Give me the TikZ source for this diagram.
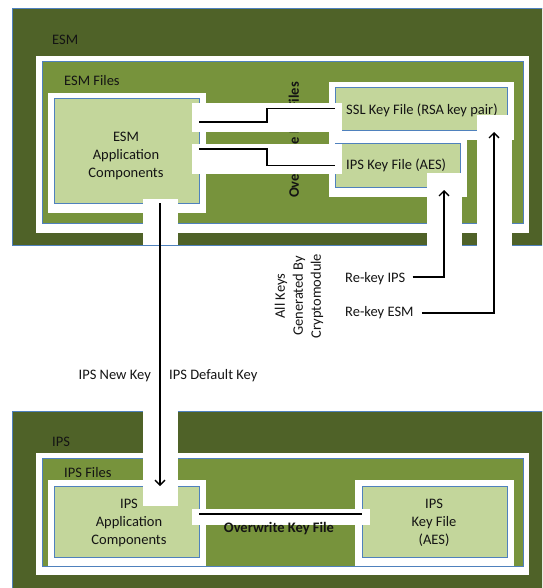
\documentclass[tikz,border=0pt]{standalone}
\usepackage{fontspec}
\setmainfont{Carlito}
\usetikzlibrary{arrows.meta,shadows}
\definecolor{dkgreen}{HTML}{4F6228}
\definecolor{mdgreen}{HTML}{77933C}
\definecolor{ltgreen}{HTML}{C3D69B}
\definecolor{bordblue}{HTML}{4F81BD}
\definecolor{txt}{HTML}{141414}
\begin{document}
\begin{tikzpicture}[x=1pt,y=-1pt,
  every node/.style={font=\fontsize{14.5}{18}\selectfont, text=txt},
  area/.style={draw=bordblue, line width=0.8pt, inner sep=0pt, outer sep=0pt, anchor=north west},
  outerbox/.style={area, fill=dkgreen},
  filebox/.style={area, fill=mdgreen, drop shadow={shadow xshift=0.8pt, shadow yshift=-1.2pt, opacity=0.3}},
  compbox/.style={area, fill=ltgreen, drop shadow={shadow xshift=0.8pt, shadow yshift=-1.2pt, opacity=0.3}},
  halo/.style={fill=white, draw=none, inner sep=0pt, outer sep=0pt, anchor=north west},
  lbl/.style={anchor=west, inner sep=0pt},
  boldlbl/.style={font=\fontsize{14.5}{18}\selectfont\bfseries, inner sep=0pt},
  conn/.style={draw=black, line width=1.1pt},
  arr/.style={conn, -{Straight Barb[length=5pt,width=10pt,line width=1.3pt]}},
]
\useasboundingbox (0,0) rectangle (542,588);
\clip (0,0) rectangle (542,588);

% ---------------- ESM ----------------
\node[outerbox, minimum width=540pt, minimum height=237pt] (esm) at (12,8) {};
\node[lbl] (esmlbl) at (52,40) {ESM};
\node[halo, minimum width=493pt, minimum height=177pt] (esmhalo) at (36,56) {};
\node[filebox, minimum width=481pt, minimum height=162pt] (esmfiles) at (42,61) {};
\node[lbl] (esmfileslbl) at (64,81) {ESM Files};
\node[halo, minimum width=158pt, minimum height=120pt] (esmapphalo) at (48,93) {};
\node[compbox, minimum width=145pt, minimum height=105pt] (esmapp) at (54,98) {};
\node[align=center, inner sep=0pt] (esmapptxt) at (126,156) {ESM\\Application\\Components};

\node[boldlbl, rotate=90] (owfiles) at (295,140) {Overwrite Key Files};

\node[halo, minimum width=185pt, minimum height=58pt] (sslhalo) at (329,82) {};
\node[halo, minimum width=138pt, minimum height=57pt] (ipshalo) at (329,140) {};
\node[compbox, minimum width=172pt, minimum height=43pt] (ssl) at (335,87) {};
\node[lbl] (ssltxt) at (346,110) {SSL Key File (RSA key pair)};
\node[compbox, minimum width=125pt, minimum height=44pt] (ipskey) at (335,143) {};
\node[lbl] (ipskeytxt) at (346,165) {IPS Key File (AES)};

% connector strips
\node[halo, minimum width=150pt, minimum height=29pt] (strip1) at (192,103) {};
\node[halo, minimum width=150pt, minimum height=30pt] (strip2) at (192,144) {};
\draw[conn] ([yshift=28.5pt]esmapp.east) -- ++(68,0) |- (ssl.west);
\draw[conn] ([yshift=1.5pt]esmapp.east) -- ++(68,0) |- ([yshift=-0.5pt]ipskey.west);

% re-key strips
\node[halo, minimum width=35pt, minimum height=79pt] (rkipsstrip) at (427,173) {};
\node[halo, minimum width=35pt, minimum height=137pt] (rkesmstrip) at (477,115) {};

% down strip (top part)
\node[halo, minimum width=35pt, minimum height=46pt] (downstrip1) at (143,199) {};

% ---------------- IPS ----------------
\node[outerbox, minimum width=540pt, minimum height=190pt] (ips) at (12,411) {};
\node[lbl] (ipslbl) at (52,442) {IPS};
\node[halo, minimum width=493pt, minimum height=122pt] (ipshalo2) at (36,453) {};
\node[filebox, minimum width=481pt, minimum height=108pt] (ipsfiles) at (42,458) {};
\node[lbl] (ipsfileslbl) at (64,473) {IPS Files};
\node[halo, minimum width=158pt, minimum height=86pt] (ipsapphalo) at (48,480) {};
\node[compbox, minimum width=145pt, minimum height=71pt] (ipsapp) at (54,486) {};
\node[align=center, inner sep=0pt] (ipsapptxt) at (129,523) {IPS\\Application\\Components};
\node[halo, minimum width=159pt, minimum height=86pt] (ipskeyhalo) at (355,480) {};
\node[compbox, minimum width=145pt, minimum height=71pt] (ipskeyfile) at (362,486) {};
\node[align=center, inner sep=0pt] (ipskeyfiletxt) at (434,523) {IPS\\Key File\\(AES)};

\node[halo, minimum width=35pt, minimum height=95pt] (downstrip2) at (143,411) {};
\node[halo, minimum width=178pt, minimum height=16pt] (owstrip) at (192,509) {};
\draw[conn] ([yshift=7.5pt]ipsapp.east) -- ([yshift=7.5pt]ipskeyfile.west);
\node[boldlbl] (owfile) at (279,529) {Overwrite Key File};

% ---------------- arrows & labels ----------------
\draw[arr] ([xshift=33.5pt]esmapp.south) -- ([xshift=33.5pt]ipsapp.north);
\node[anchor=east, inner sep=0pt] (newkey) at (151,376) {IPS New Key};
\node[anchor=west, inner sep=0pt] (defkey) at (169,376) {IPS Default Key};

\node[lbl] (rkips) at (345,279) {Re-key IPS};
\node[lbl] (rkesm) at (345,313) {Re-key ESM};
\draw[arr] ([xshift=7pt,yshift=2pt]rkips.east) -| ([xshift=46.5pt,yshift=-3pt]ipskey.south);
\draw[arr] ([xshift=8pt]rkesm.east) -| ([xshift=73pt,yshift=-2pt]ssl.south);

\node[rotate=90, align=center, inner sep=0pt] (allkeys) at (299,296) {All Keys\\Generated By\\Cryptomodule};
\end{tikzpicture}
\end{document}
